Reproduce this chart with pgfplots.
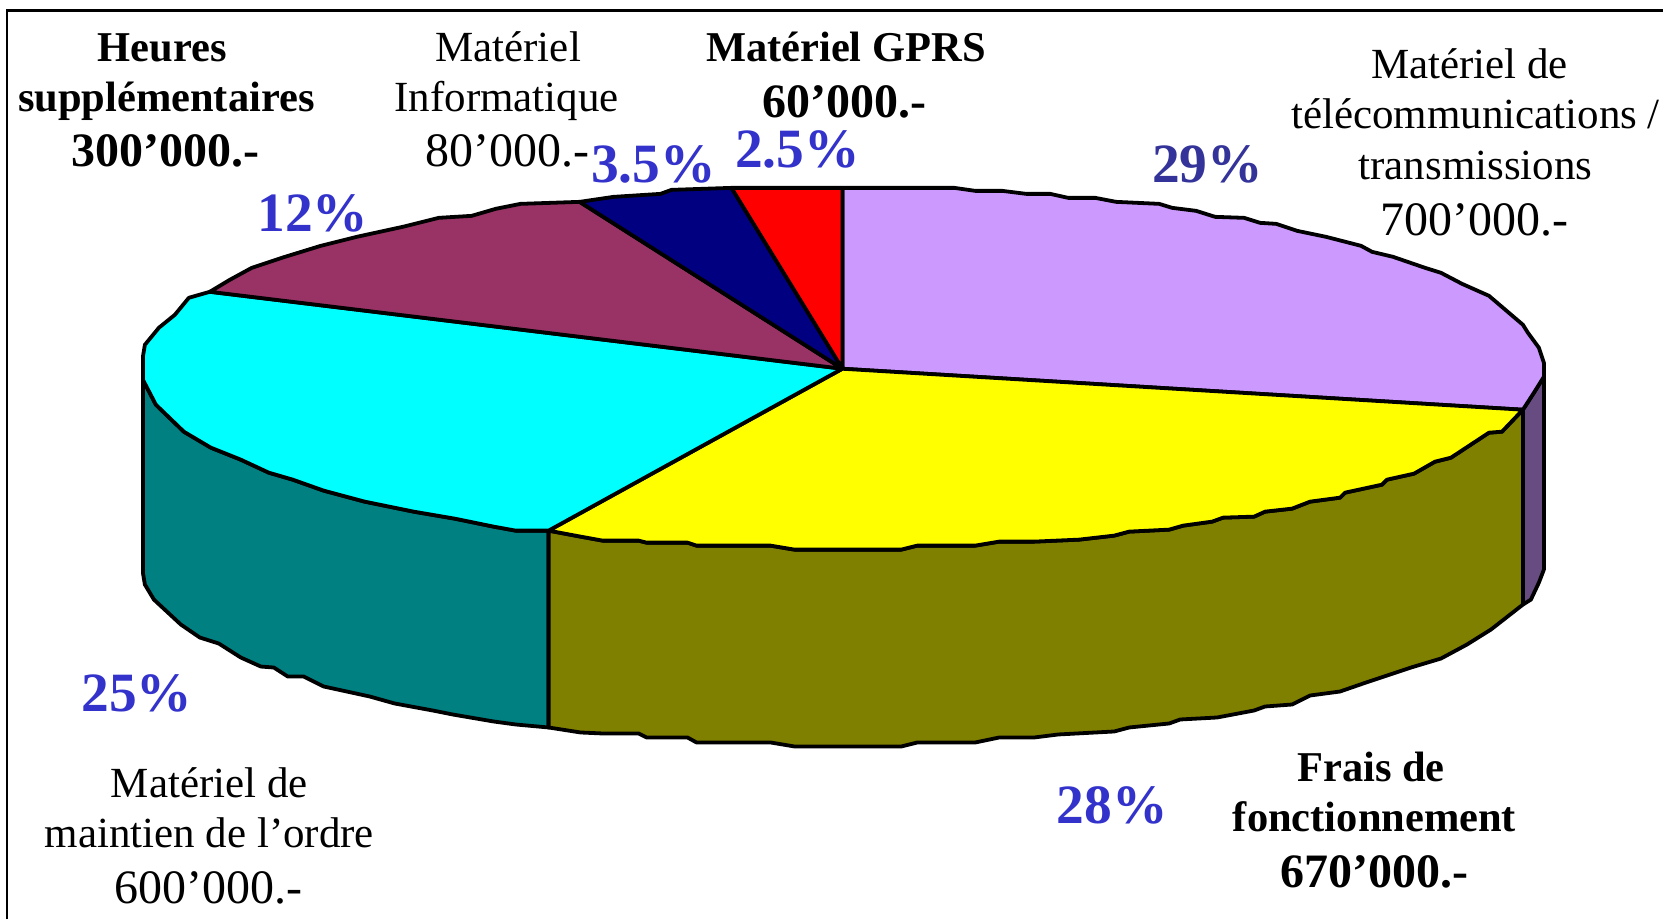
\documentclass[border=0pt]{standalone}
\usepackage{pgfplots}
\pgfplotsset{compat=1.18}
\usepackage{fontspec}
\setmainfont{Liberation Serif}
\definecolor{cpurple}{HTML}{CC99FF}
\definecolor{cyellow}{HTML}{FFFF00}
\definecolor{ccyan}{HTML}{00FFFF}
\definecolor{cmaroon}{HTML}{993366}
\definecolor{cnavy}{HTML}{000080}
\definecolor{cred}{HTML}{FF0000}
\definecolor{cteal}{HTML}{008080}
\definecolor{colive}{HTML}{808000}
\definecolor{cside}{HTML}{664C80}
\definecolor{cblue}{HTML}{3333CC}
\definecolor{cblued}{HTML}{333399}
\tikzset{pie/.style={draw=black, line width=3.8pt, line join=round}}
\newcommand{\reg}[3]{\node[anchor=base,inner sep=0pt,font=\fontsize{43}{50}\selectfont] at (axis cs:#1,#2) {#3};}
\newcommand{\bol}[3]{\node[anchor=base,inner sep=0pt,font=\fontsize{42.5}{50}\selectfont\bfseries] at (axis cs:#1,#2) {#3};}
\newcommand{\regn}[3]{\node[anchor=base,inner sep=0pt,font=\fontsize{48}{50}\selectfont] at (axis cs:#1,#2) {#3};}
\newcommand{\boln}[3]{\node[anchor=base,inner sep=0pt,font=\fontsize{48}{50}\selectfont\bfseries] at (axis cs:#1,#2) {#3};}
\newcommand{\pct}[4][cblue]{\node[anchor=base,inner sep=0pt,text=#1,font=\fontsize{55.5}{60}\selectfont\bfseries] at (axis cs:#2,#3) {#4};}
\begin{document}
\begin{tikzpicture}
\begin{axis}[
  scale only axis, width=1664pt, height=920pt,
  xmin=0, xmax=1664, ymin=0, ymax=920, y dir=reverse,
  hide axis, clip=false,
]
% frame
\addplot[draw=black, line width=2.4pt, fill=none] coordinates {(7,920) (7,10.5) (1664,10.5)};
% sides
\addplot[pie, fill=cside] coordinates {(1524,410) (1535,393) (1545,377) (1545,570) (1540,583) (1532,600) (1524,605)} --cycle;
\addplot[pie, fill=cteal] coordinates {(143,380) (156,405) (184,432) (211,448) (241,460) (269,473) (293,480) (324,491) (365,502) (414,512) (455,519) (494,527) (516,531) (549,531) (549,728) (516,725) (494,722) (453,715) (433,711) (395,704) (370,697) (324,687) (304,677) (288,677) (274,668) (261,667) (241,658) (219,644) (200,638) (181,625) (154,600) (145,585) (143,573)} --cycle;
\addplot[pie, fill=colive] coordinates {(549,531) (581,537) (603,541) (639,541) (647,543) (688,543) (697,546) (771,546) (795,550) (902,550) (918,546) (976,546) (1000,542) (1035,542) (1080,540) (1115,536) (1130,532) (1170,530) (1184,526) (1213,522) (1224,518) (1255,517) (1266,512) (1293,509) (1311,502) (1341,498) (1346,493) (1383,485) (1388,480) (1415,474) (1436,462) (1452,458) (1490,433) (1503,432) (1524,410) (1524,605) (1492,630) (1468,645) (1442,659) (1412,668) (1367,683) (1341,692) (1311,696) (1293,705) (1266,707) (1255,711) (1218,718) (1181,720) (1170,724) (1130,728) (1115,732) (1059,735) (1035,738) (1000,738) (976,743) (918,743) (902,747) (795,747) (771,743) (697,743) (688,738) (647,738) (639,734) (603,734) (581,733) (549,728)} --cycle;
% top sectors
\addplot[pie, fill=cpurple] coordinates {(843,369) (843,188) (955,188) (976,191) (1003,191) (1027,194) (1051,194) (1069,198) (1096,198) (1117,202) (1160,204) (1173,208) (1197,211) (1216,217) (1245,218) (1261,223) (1277,224) (1298,231) (1327,237) (1362,246) (1373,252) (1394,257) (1426,268) (1442,273) (1463,284) (1490,296) (1524,325) (1529,333) (1540,348) (1545,363) (1545,377) (1535,393) (1524,410)} --cycle;
\addplot[pie, fill=cyellow] coordinates {(843,369) (1524,410) (1503,432) (1490,433) (1452,458) (1436,462) (1415,474) (1388,480) (1383,485) (1346,493) (1341,498) (1311,502) (1293,509) (1266,512) (1255,517) (1224,518) (1213,522) (1184,526) (1170,530) (1130,532) (1115,536) (1080,540) (1035,542) (1000,542) (976,546) (918,546) (902,550) (795,550) (771,546) (697,546) (688,543) (647,543) (639,541) (603,541) (581,537) (549,531)} --cycle;
\addplot[pie, fill=ccyan] coordinates {(843,369) (549,531) (516,531) (494,527) (455,519) (414,512) (365,502) (324,491) (293,480) (269,473) (241,460) (211,448) (184,432) (156,405) (143,380) (143,357) (145,345) (159,328) (175,315) (189,298) (210,292)} --cycle;
\addplot[pie, fill=cmaroon] coordinates {(843,369) (210,292) (230,280) (252,268) (282,258) (321,246) (357,237) (403,227) (439,218) (472,216) (496,209) (521,204) (580,202)} --cycle;
\addplot[pie, fill=cnavy] coordinates {(843,369) (580,202) (614,197) (661,194) (672,190) (732,188)} --cycle;
\addplot[pie, fill=cred] coordinates {(843,369) (732,188) (843,188)} --cycle;
% labels
\bol{162.5}{62}{Heures}
\bol{166.5}{112}{supplémentaires}
\boln{166}{167}{300’000.-}
\reg{508.5}{62}{Matériel}
\reg{507}{112}{Informatique}
\regn{508}{167}{80’000.-}
\bol{846.5}{62}{Matériel GPRS}
\boln{845}{118}{60’000.-}
\reg{1470.5}{78.5}{Matériel de}
\reg{1476.5}{129}{télécommunications /}
\reg{1476.5}{180}{transmissions}
\regn{1475.5}{236}{700’000.-}
\bol{1372}{782.5}{Frais de}
\bol{1375.5}{832.5}{fonctionnement}
\boln{1375.5}{888.5}{670’000.-}
\reg{209.5}{798.5}{Matériel de}
\reg{209.5}{848.5}{maintien de l’ordre}
\regn{209}{904}{600’000.-}
\pct{654}{183}{3.5\%}
\pct{798}{168}{2.5\%}
\pct{313}{232}{12\%}
\pct[cblued]{1208.5}{183}{29\%}
\pct{137}{712}{25\%}
\pct{1113}{824}{28\%}
\end{axis}
\path[use as bounding box] (0,0) rectangle (1664pt,920pt);
\end{tikzpicture}
\end{document}
